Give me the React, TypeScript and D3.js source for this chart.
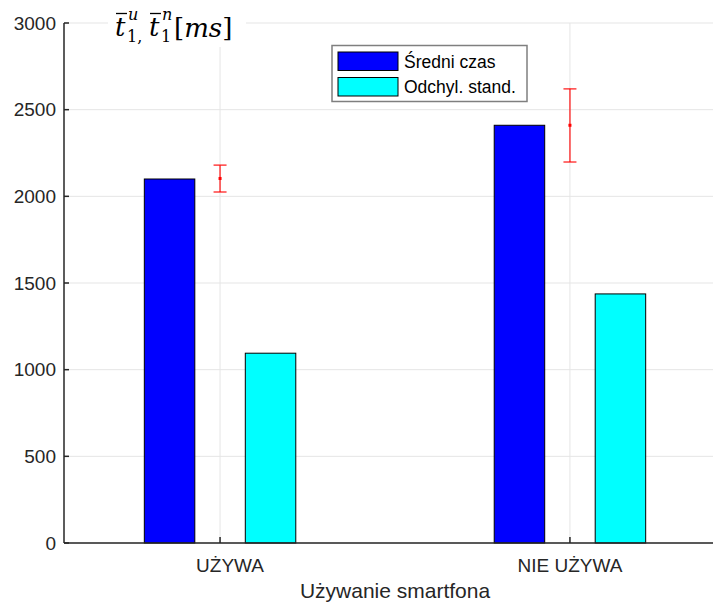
import React from "react";
import * as d3 from "d3";

// Categories and series
const categories = ["UŻYWA", "NIE UŻYWA"];
const categoryPos = [1, 2];
const seriesNames = ["Średni czas", "Odchyl. stand."];
const seriesColors = ["#0000ff", "#00ffff"];
const meanTime = [2100, 2410];
const stdDev = [1095, 1437];
// Error bars drawn at each group centre
const errMid = [2103, 2410];
const errLow = [2025, 2198];
const errHigh = [2180, 2620];
const yTicks = [0, 500, 1000, 1500, 2000, 2500, 3000];

const W = 713;
const H = 605;
const left = 64;
const right = 726;
const top = 23;
const bottom = 543;

const textColor = "#262626";
const gridColor = "#e5e5e5";
const sans = "'Liberation Sans', Arial, Helvetica, sans-serif";
const serif = "'DejaVu Serif', 'Liberation Serif', serif";

export default function App() {
  const x = d3.scaleLinear().domain([0.554, 2.446]).range([left, right]);
  const y = d3.scaleLinear().domain([0, 3000]).range([bottom, top]);

  const barW = 0.1443;
  const offsets = [-0.1443, 0.1443];
  const series = [meanTime, stdDev];

  return (
    <svg
      width={W}
      height={H}
      style={{ position: "absolute", left: 0, top: 0, background: "#fff" }}
    >
      <rect x={0} y={0} width={W} height={H} fill="#fff" />
      {/* grid */}
      {yTicks.map((t) => (
        <line key={"gy" + t} x1={left} x2={W} y1={y(t)} y2={y(t)} stroke={gridColor} strokeWidth={1} />
      ))}
      {categoryPos.map((c) => (
        <line key={"gx" + c} x1={x(c)} x2={x(c)} y1={top} y2={bottom} stroke={gridColor} strokeWidth={1} />
      ))}

      {/* bars */}
      {series.map((vals, si) =>
        vals.map((v, ci) => {
          const cx = categoryPos[ci] + offsets[si];
          const x0 = x(cx - barW / 2);
          const x1 = x(cx + barW / 2);
          return (
            <rect
              key={`b${si}-${ci}`}
              x={x0}
              y={y(v)}
              width={x1 - x0}
              height={y(0) - y(v)}
              fill={seriesColors[si]}
              stroke="#000"
              strokeWidth={1}
            />
          );
        })
      )}

      {/* error bars */}
      {categoryPos.map((c, i) => {
        const cx = x(c);
        return (
          <g key={"e" + i} stroke="#ff0000" strokeOpacity={0.7} strokeWidth={1.6}>
            <line x1={cx} x2={cx} y1={y(errLow[i])} y2={y(errHigh[i])} />
            <line x1={cx - 6.5} x2={cx + 6.5} y1={y(errLow[i])} y2={y(errLow[i])} />
            <line x1={cx - 6.5} x2={cx + 6.5} y1={y(errHigh[i])} y2={y(errHigh[i])} />
            <rect x={cx - 1.5} y={y(errMid[i]) - 1.5} width={3} height={3} fill="#ff0000" stroke="none" />
          </g>
        );
      })}

      {/* axes */}
      <line x1={left} x2={W} y1={bottom} y2={bottom} stroke={textColor} strokeWidth={1.5} />
      <line x1={left} x2={left} y1={top} y2={bottom} stroke={textColor} strokeWidth={1.5} />
      {yTicks.map((t) => (
        <g key={"ty" + t}>
          <line x1={left} x2={left + 5} y1={y(t)} y2={y(t)} stroke={textColor} strokeWidth={1.5} />
          <text
            x={left - 8}
            y={y(t)}
            dy="0.35em"
            textAnchor="end"
            fontFamily={sans}
            fontSize={19}
            fill={textColor}
          >
            {t}
          </text>
        </g>
      ))}
      {categoryPos.map((c, i) => (
        <g key={"tx" + c}>
          <line x1={x(c)} x2={x(c)} y1={bottom} y2={bottom - 6} stroke={textColor} strokeWidth={1.5} />
          <text
            x={x(c)}
            y={572}
            textAnchor="middle"
            fontFamily={sans}
            fontSize={19}
            fill={textColor}
            dx={i === 0 ? 10 : 0}
          >
            {categories[i]}
          </text>
        </g>
      ))}
      <text
        x={(left + right) / 2}
        y={598}
        textAnchor="middle"
        fontFamily={sans}
        fontSize={21}
        fill={textColor}
      >
        Używanie smartfona
      </text>

      {/* value label in the top-left corner */}
      <rect x={108} y={4} width={138} height={43} fill="#fff" />
      <g fontFamily={serif} fill="#000">
        <text x={115} y={36} fontSize={26} fontStyle="italic">t</text>
        <line x1={116} x2={127} y1={13.5} y2={13.5} stroke="#000" strokeWidth={1.3} />
        <text x={128} y={20} fontSize={16} fontStyle="italic">u</text>
        <text x={127} y={42} fontSize={16}>1,</text>
        <text x={149} y={36} fontSize={26} fontStyle="italic">t</text>
        <line x1={150} x2={161} y1={13.5} y2={13.5} stroke="#000" strokeWidth={1.3} />
        <text x={162} y={20} fontSize={16} fontStyle="italic">n</text>
        <text x={161} y={42} fontSize={16}>1</text>
        <text x={174} y={37} fontSize={26}>
          <tspan>[</tspan>
          <tspan fontStyle="italic">ms</tspan>
          <tspan>]</tspan>
        </text>
      </g>

      {/* legend */}
      <g>
        <rect x={332} y={45.5} width={195} height={56} fill="#fff" stroke="#7f7f7f" strokeWidth={1.5} />
        {seriesNames.map((name, i) => (
          <g key={"lg" + i}>
            <rect
              x={338}
              y={52 + i * 25.5}
              width={60}
              height={18.5}
              fill={seriesColors[i]}
              stroke="#000"
              strokeWidth={1}
            />
            <text
              x={404}
              y={61.5 + i * 25.5}
              dy="0.35em"
              fontFamily={sans}
              fontSize={17.5}
              fill="#000"
            >
              {name}
            </text>
          </g>
        ))}
      </g>
    </svg>
  );
}
